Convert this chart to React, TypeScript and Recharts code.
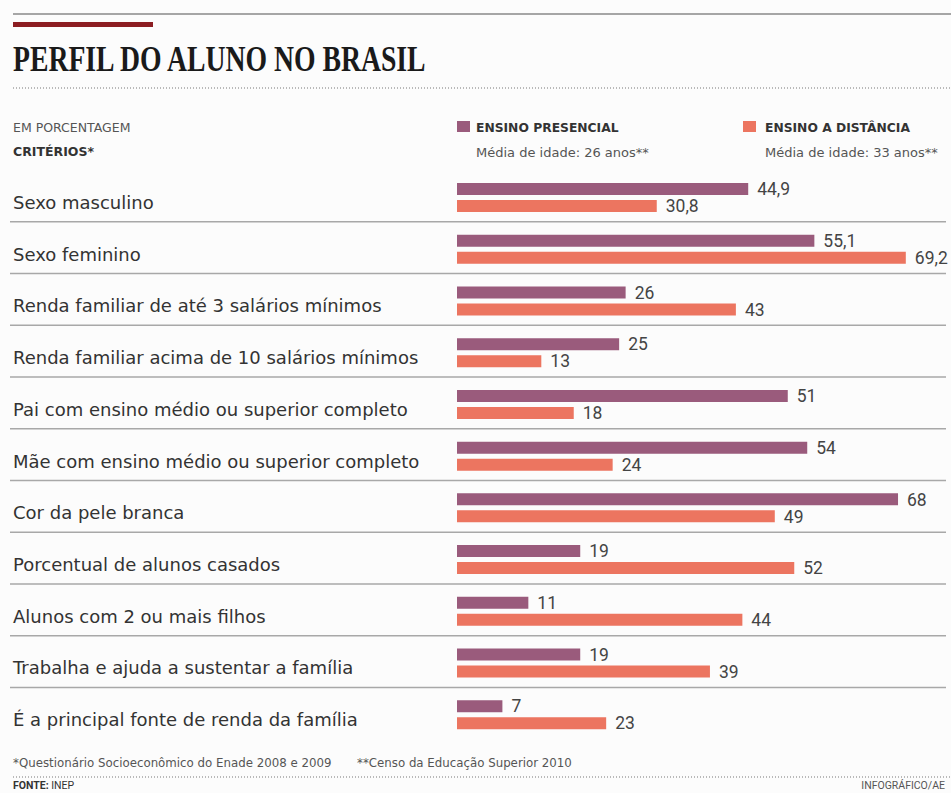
import React from 'react';
import { Bar, BarChart, LabelList, XAxis, YAxis } from 'recharts';

const categories = [
  'Sexo masculino',
  'Sexo feminino',
  'Renda familiar de até 3 salários mínimos',
  'Renda familiar acima de 10 salários mínimos',
  'Pai com ensino médio ou superior completo',
  'Mãe com ensino médio ou superior completo',
  'Cor da pele branca',
  'Porcentual de alunos casados',
  'Alunos com 2 ou mais filhos',
  'Trabalha e ajuda a sustentar a família',
  'É a principal fonte de renda da família',
];
const presencial = [44.9, 55.1, 26, 25, 51, 54, 68, 19, 11, 19, 7];
const distancia = [30.8, 69.2, 43, 13, 18, 24, 49, 52, 44, 39, 23];

const seriesNames = ['ENSINO PRESENCIAL', 'ENSINO A DISTÂNCIA'];
const seriesNotes = ['Média de idade: 26 anos**', 'Média de idade: 33 anos**'];

const PURPLE = '#9a5b7c';
const ORANGE = '#ec7560';
const SANS = 'Roboto, "Noto Sans", sans-serif';
const WIDE = '"DejaVu Sans", Roboto, sans-serif';

const data = categories.map((name, i) => ({ name, p: presencial[i], d: distancia[i] }));

const fmt = (v: unknown) => String(v).replace('.', ',');

function RowTick(props: any) {
  const { y, payload } = props;
  const idx = categories.indexOf(payload.value);
  return (
    <g>
      <text x={13} y={y + 11} fill="#333" fontSize={18} fontFamily={WIDE} textAnchor="start">
        {payload.value}
      </text>
      {idx < categories.length - 1 && (
        <line x1={10} x2={946} y1={y + 24} y2={y + 24} stroke="#a8a8a8" strokeWidth={1.5} />
      )}
    </g>
  );
}

export default function App() {
  return (
    <div style={{ position: 'absolute', left: 0, top: 0, width: 951, height: 793, background: '#fcfcfc', overflow: 'hidden' }}>
      <svg width={951} height={793} style={{ position: 'absolute', left: 0, top: 0 }}>
        <line x1={13} x2={951} y1={14} y2={14} stroke="#8a8a8a" strokeWidth={1.5} />
        <rect x={13} y={22} width={140} height={5} fill="#8c1d22" />
        <text
          x={0}
          y={0}
          transform="translate(13 71) scale(0.77 1)"
          fontFamily='"Liberation Serif", "DejaVu Serif", serif'
          fontWeight="bold"
          fontSize={36}
          fill="#1a1a1a"
        >
          PERFIL DO ALUNO NO BRASIL
        </text>
        <line x1={13} x2={951} y1={88} y2={88} stroke="#777" strokeWidth={1} strokeDasharray="1 2" />

        <text x={13} y={132} fontFamily={WIDE} fontSize={12.5} fill="#555">EM PORCENTAGEM</text>
        <text x={13} y={156} fontFamily={WIDE} fontSize={12.5} fontWeight="bold" fill="#333">CRITÉRIOS*</text>

        <rect x={457} y={121} width={13} height={11} fill={PURPLE} />
        <text x={476} y={132} fontFamily={WIDE} fontSize={12.3} fontWeight="bold" fill="#333">{seriesNames[0]}</text>
        <text x={476} y={157} fontFamily={WIDE} fontSize={13} fill="#555">{seriesNotes[0]}</text>
        <rect x={743} y={121} width={13} height={11} fill={ORANGE} />
        <text x={765} y={132} fontFamily={WIDE} fontSize={12.3} fontWeight="bold" fill="#333">{seriesNames[1]}</text>
        <text x={765} y={157} fontFamily={WIDE} fontSize={13} fill="#555">{seriesNotes[1]}</text>

        <text x={13} y={767} fontFamily={WIDE} fontSize={11.8} fill="#555">
          *Questionário Socioeconômico do Enade 2008 e 2009
        </text>
        <text x={357} y={767} fontFamily={WIDE} fontSize={11.8} fill="#555">
          **Censo da Educação Superior 2010
        </text>
        <line x1={13} x2={951} y1={777} y2={777} stroke="#777" strokeWidth={1} strokeDasharray="1 2" />
        <text x={13} y={789} fontFamily={SANS} fontSize={10.5} fill="#333">
          <tspan fontWeight="bold">FONTE:</tspan> INEP
        </text>
        <text x={945} y={789} fontFamily={SANS} fontSize={10.5} fill="#555" textAnchor="end">INFOGRÁFICO/AE</text>
      </svg>

      <div style={{ position: 'absolute', left: 0, top: 172 }}>
        <BarChart
          width={951}
          height={569}
          data={data}
          layout="vertical"
          margin={{ top: 0, right: 40, bottom: 0, left: 0 }}
          barSize={12}
          barGap={5}
        >
          <XAxis type="number" domain={[0, 70]} hide />
          <YAxis
            type="category"
            dataKey="name"
            width={457}
            tickLine={false}
            axisLine={false}
            tick={(props: any) => <RowTick {...props} />}
            interval={0}
          />
          <Bar dataKey="p" fill={PURPLE} isAnimationActive={false}>
            <LabelList dataKey="p" position="right" offset={9} formatter={fmt} fill="#444" fontSize={17.5} fontFamily={SANS} />
          </Bar>
          <Bar dataKey="d" fill={ORANGE} isAnimationActive={false}>
            <LabelList dataKey="d" position="right" offset={9} formatter={fmt} fill="#444" fontSize={17.5} fontFamily={SANS} />
          </Bar>
        </BarChart>
      </div>
    </div>
  );
}
